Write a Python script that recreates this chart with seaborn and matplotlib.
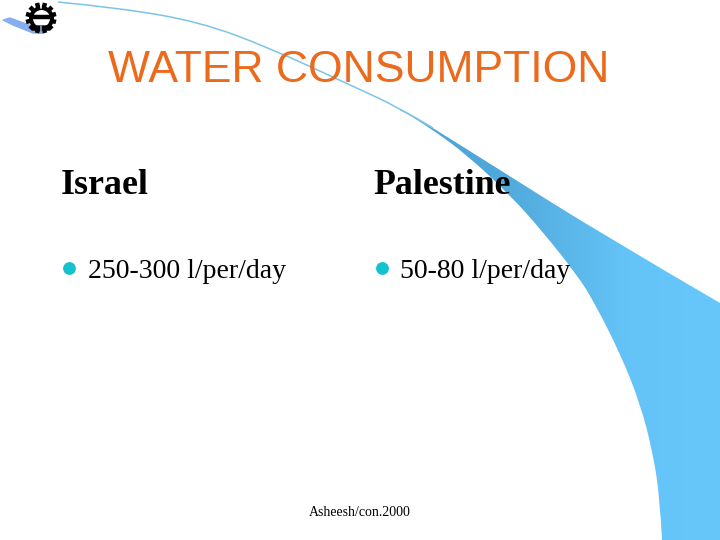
import matplotlib.pyplot as plt
from matplotlib.patches import PathPatch
from matplotlib.path import Path
import numpy as np
import pandas as pd
import seaborn as sns

TITLE = "WATER CONSUMPTION"
COLUMNS = ["Israel", "Palestine"]
AMOUNTS = ["250-300 l/per/day", "50-80 l/per/day"]
FOOTER = "Asheesh/con.2000"

BULLET_X = [69, 382]
BULLET_Y = [268, 268]

# swoosh outline in pixels
TOP_EDGE_X = [58, 120, 200, 270, 350, 400, 433, 500, 600, 720]
TOP_EDGE_Y = [2, 8, 22, 48, 85, 108, 128, 170, 233, 303]
LOW_EDGE_X = [662, 660, 653, 640, 620, 593, 577, 543, 510, 467, 433, 400, 350, 270, 200, 120, 58]
LOW_EDGE_Y = [540, 500, 453, 403, 353, 300, 275, 232, 195, 155, 130, 109, 86, 49, 23, 9, 2]

SMEAR_X = [3, 10, 37, 43, 33, 13]
SMEAR_Y = [20, 18, 28, 33, 33, 25]

GEAR_X = [41]
GEAR_Y = [18]
TOOTH_ANGLES = [15, 45, 75, 105, 135, 165]


def curve_through(xs, ys, start_code=Path.MOVETO):
    # read points act as quadratic control points, so the edge comes out smooth
    pts = np.column_stack([xs, ys]).astype(float)
    verts = [pts[0]]
    codes = [start_code]
    for i in range(1, len(pts) - 1):
        end = pts[i + 1] if i == len(pts) - 2 else (pts[i] + pts[i + 1]) / 2
        verts += [pts[i], end]
        codes += [Path.CURVE3, Path.CURVE3]
    return verts, codes


def draw_swoosh(ax):
    top_v, top_c = curve_through(TOP_EDGE_X, TOP_EDGE_Y)
    low_v, low_c = curve_through(LOW_EDGE_X, LOW_EDGE_Y, Path.LINETO)
    verts = top_v + low_v + [top_v[0]]
    codes = top_c + low_c + [Path.CLOSEPOLY]
    # the bottom right corner of the slide
    verts[len(top_v):len(top_v)] = [(720, 540)]
    codes[len(top_c):len(top_c)] = [Path.LINETO]
    shape = PathPatch(Path(verts, codes), facecolor="none", edgecolor="none", transform=ax.transData)
    ax.add_patch(shape)

    ramp = np.array([[0.0, 0.05, 0.45, 0.9, 1.0]])
    im = ax.imshow(
        ramp,
        extent=(400, 720, 540, 0),
        cmap=sns.blend_palette(["#4fa6d8", "#66c6fa"], as_cmap=True),
        interpolation="bilinear",
        aspect="auto",
        zorder=1,
    )
    im.set_clip_path(shape)

    line_v, line_c = curve_through(TOP_EDGE_X[:7], TOP_EDGE_Y[:7])
    ax.add_patch(PathPatch(Path(line_v, line_c), facecolor="none", edgecolor="#7cc4e6", linewidth=1.1, zorder=1))


def draw_logo(ax):
    cx, cy = GEAR_X[0], GEAR_Y[0]
    ax.fill(SMEAR_X, SMEAR_Y, color="#86aef0", zorder=1)
    for angle in TOOTH_ANGLES:
        dx, dy = 15.5 * np.cos(np.radians(angle)), 15.5 * np.sin(np.radians(angle))
        ax.plot([cx - dx, cx + dx], [cy - dy, cy + dy], color="black", linewidth=3.2, solid_capstyle="butt", zorder=2)
    sns.scatterplot(x=GEAR_X, y=GEAR_Y, s=324, marker="o", color="black", linewidth=0, ax=ax, zorder=3)
    sns.scatterplot(x=GEAR_X, y=GEAR_Y, s=150, marker="o", color="white", linewidth=0, ax=ax, zorder=4)
    ax.plot([cx - 10, cx + 10], [cy - 1, cy - 1], color="black", linewidth=3.2, solid_capstyle="butt", zorder=5)
    ax.fill([cx - 6, cx + 6, cx + 9, cx - 9], [cy + 8, cy + 8, cy + 12, cy + 12], color="black", zorder=5)
    ax.plot([cx, cx], [1, 8], color="white", linewidth=1.2, zorder=5)
    ax.plot([cx, cx], [26, 33], color="#7ea6d8", linewidth=1.2, zorder=5)


def main():
    sns.set_theme(style="white")
    fig, ax = plt.subplots(figsize=(7.2, 5.4), dpi=100)
    ax.set_position([0, 0, 1, 1])
    ax.axis("off")

    draw_swoosh(ax)
    draw_logo(ax)

    bullets = pd.DataFrame({"x": BULLET_X, "y": BULLET_Y})
    sns.scatterplot(data=bullets, x="x", y="y", s=85, color="#12c2cc", linewidth=0, legend=False, ax=ax, zorder=3)

    ax.text(359, 70, TITLE, color="#ec6a1c", fontsize=32, family="Liberation Sans", ha="center", va="center", zorder=6)
    for x, label in zip([61, 373], COLUMNS):
        ax.text(x, 185, label, color="black", fontsize=25.8, fontweight="bold", family="Liberation Serif", va="center", zorder=6)
    for x, label in zip([88, 400], AMOUNTS):
        ax.text(x, 271, label, color="black", fontsize=20, family="Liberation Serif", va="center", zorder=6)
    ax.text(360, 513, FOOTER, color="black", fontsize=10, family="Liberation Serif", ha="center", va="center", zorder=6)

    ax.set_xlim(0, 720)
    ax.set_ylim(540, 0)
    ax.set_xlabel("")
    ax.set_ylabel("")
    fig.savefig("out.png", dpi=100)
    plt.close(fig)


if __name__ == "__main__":
    main()
